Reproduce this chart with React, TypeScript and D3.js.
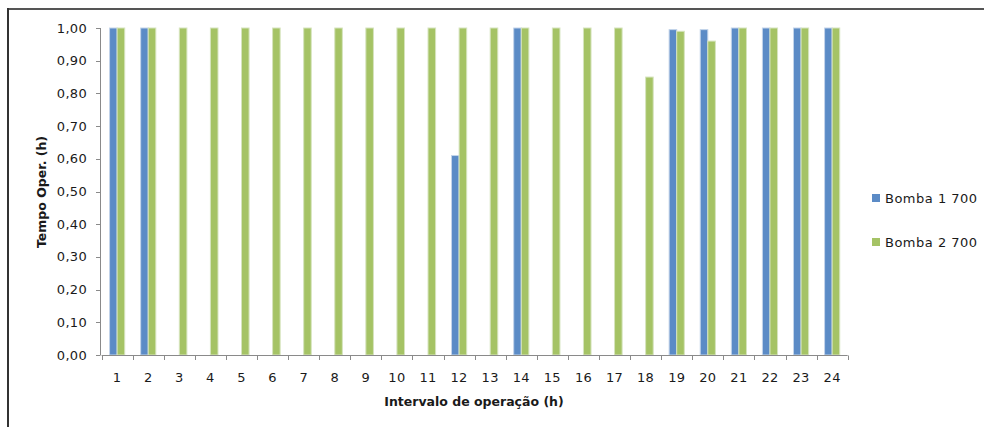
import React from "react";
import * as d3 from "d3";

// Operating time per hourly interval for each pump
const intervals = d3.range(1, 25).map(String);
const bomba1 = [1, 1, 0, 0, 0, 0, 0, 0, 0, 0, 0, 0.61, 0, 1, 0, 0, 0, 0, 0.995, 0.995, 1, 1, 1, 1];
const bomba2 = [1, 1, 1, 1, 1, 1, 1, 1, 1, 1, 1, 1, 1, 1, 1, 1, 1, 0.85, 0.99, 0.96, 1, 1, 1, 1];
const seriesNames = ["Bomba 1 700", "Bomba 2 700"];
const yTicks = d3.range(0, 1.0001, 0.1);

const W = 984;
const H = 427;
const colors = ["#5B8BC6", "#A5C365"];
const strokes = ["#C3D4EA", "#D6E4BE"];
const font = "'DejaVu Sans', Verdana, sans-serif";

export default function App() {
  const x = d3.scaleBand<string>().domain(intervals).range([101.6, 847.7]).padding(0);
  const xs = d3
    .scaleBand<string>()
    .domain(["0", "1"])
    .range([0, x.bandwidth()])
    .paddingInner(0)
    .paddingOuter(1.05);
  const y = d3.scaleLinear().domain([0, 1]).range([355, 28]);
  const fmt = (v: number) => d3.format(".2f")(v).replace(".", ",");
  const series = [bomba1, bomba2];

  return (
    <svg
      width={W}
      height={H}
      style={{ position: "absolute", left: 0, top: 0, background: "#fff" }}
      fontFamily={font}
    >
      {/* outer frame */}
      <line x1={8} x2={W} y1={9} y2={9} stroke="#555" strokeWidth={2} />
      <line x1={8} x2={8} y1={8} y2={H} stroke="#333" strokeWidth={2} />

      {/* y axis */}
      <line x1={100.5} x2={100.5} y1={y(1)} y2={y(0)} stroke="#8a8a8a" />
      {yTicks.map((t) => (
        <g key={t}>
          <line x1={96} x2={100.5} y1={Math.round(y(t)) + 0.5} y2={Math.round(y(t)) + 0.5} stroke="#8a8a8a" />
          <text x={87} y={y(t)} dy="0.35em" textAnchor="end" fontSize={13} letterSpacing={0.3} fill="#1a1a1a">
            {fmt(t)}
          </text>
        </g>
      ))}

      {/* bars */}
      {series.map((vals, si) =>
        vals.map((v, i) => {
          if (v <= 0) return null;
          const bx = (x(intervals[i]) as number) + (xs(String(si)) as number);
          return (
            <rect
              key={`${si}-${i}`}
              x={bx}
              y={y(v)}
              width={xs.bandwidth()}
              height={y(0) - y(v)}
              fill={colors[si]}
              stroke={strokes[si]}
              strokeWidth={1}
            />
          );
        })
      )}

      {/* x axis */}
      <line x1={x.range()[0]} x2={x.range()[1]} y1={355.5} y2={355.5} stroke="#8a8a8a" />
      {[...intervals, "end"].map((c, i) => {
        const px = Math.round(x.range()[0] + i * x.bandwidth()) + 0.5;
        return <line key={c} x1={px} x2={px} y1={355.5} y2={360} stroke="#8a8a8a" />;
      })}
      {intervals.map((c) => (
        <text
          key={c}
          x={(x(c) as number) + x.bandwidth() / 2}
          y={382}
          textAnchor="middle"
          fontSize={13}
          letterSpacing={0.3}
          fill="#1a1a1a"
        >
          {c}
        </text>
      ))}

      {/* axis titles */}
      <text x={474} y={406} textAnchor="middle" fontSize={12.5} fontWeight="bold" fill="#1a1a1a">
        Intervalo de operação (h)
      </text>
      <text
        transform="translate(46,192) rotate(-90)"
        textAnchor="middle"
        fontSize={12.5}
        fontWeight="bold"
        fill="#1a1a1a"
      >
        Tempo Oper. (h)
      </text>

      {/* legend */}
      {seriesNames.map((n, i) => (
        <g key={n} transform={`translate(872,${194 + i * 44})`}>
          <rect width={8} height={8} fill={colors[i]} />
          <text x={13} y={8.5} fontSize={13} letterSpacing={0.5} fill="#1a1a1a">
            {n}
          </text>
        </g>
      ))}
    </svg>
  );
}
